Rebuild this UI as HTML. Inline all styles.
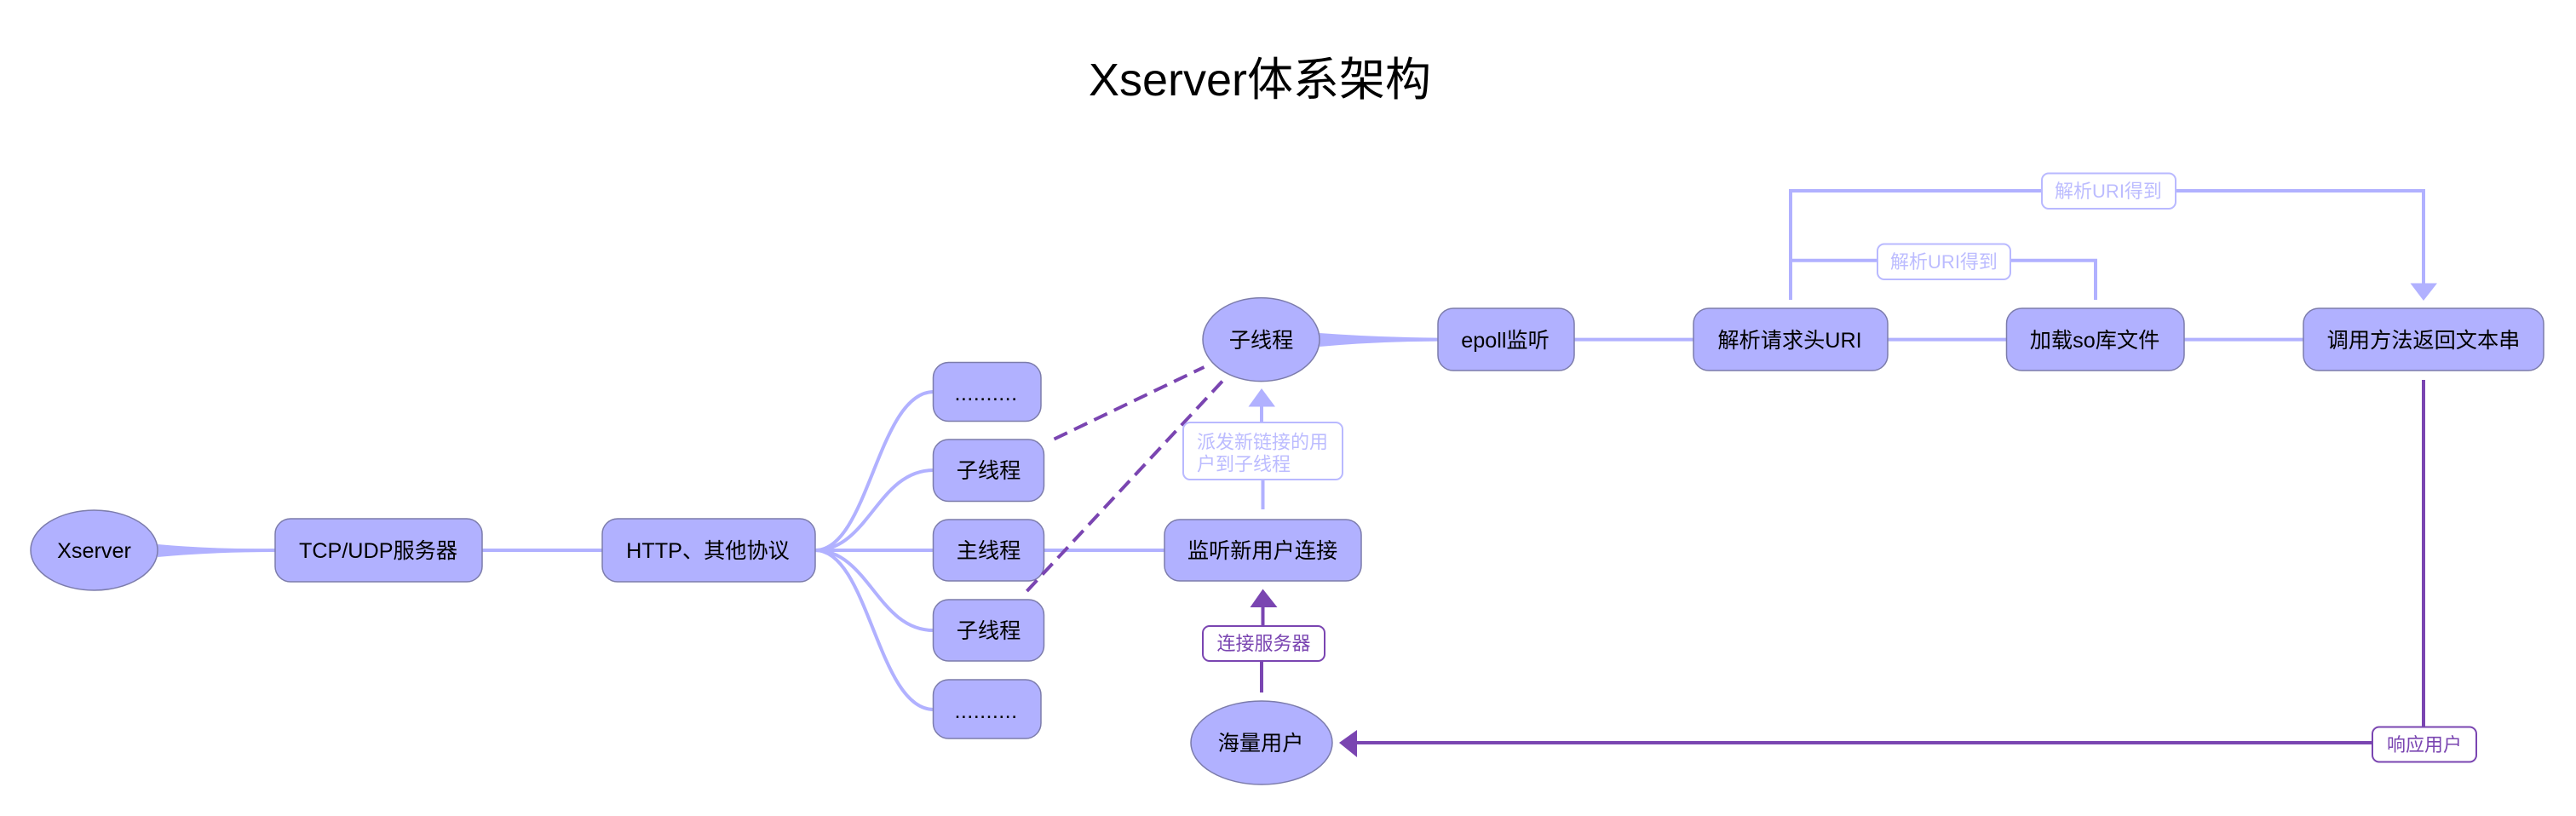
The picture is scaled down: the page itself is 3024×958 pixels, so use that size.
<!DOCTYPE html>
<html><head><meta charset="utf-8"><style>
html,body{margin:0;padding:0;background:#fff;width:3024px;height:958px;overflow:hidden}
svg{display:block}
text{font-family:"Liberation Sans","Noto Sans CJK SC",sans-serif}
.n{fill:#b1b1ff;stroke:#7c7cab;stroke-width:1.5}
.t{font-size:25.2px;fill:#000;text-anchor:middle}
.l{fill:none;stroke:#b1b1ff;stroke-width:4}
.p{fill:none;stroke:#7a45b1;stroke-width:4}
.d{fill:none;stroke:#7a45b1;stroke-width:4;stroke-dasharray:17 9}
.lb{fill:#fff;stroke:#b9b9ff;stroke-width:2}
.lp{fill:#fff;stroke:#7a45b1;stroke-width:2}
.tl{font-size:22px;fill:#bcbcff;text-anchor:middle}
.tp{font-size:22px;fill:#7a45b1;text-anchor:middle}
</style></head><body>
<svg width="3024" height="958" viewBox="0 0 3024 958" xmlns="http://www.w3.org/2000/svg">
<rect width="3024" height="958" fill="#fff"/>
<text x="1479" y="112" text-anchor="middle" font-size="54" fill="#000">Xserver体系架构</text>

<!-- tapered -->
<path d="M185 639 Q250 645 323 644 L323 648 Q250 648 185 654 Z" fill="#b1b1ff"/>
<path d="M1549 391 Q1615 396 1688 396.600 L1688 400.600 Q1615 401 1549 407 Z" fill="#b1b1ff"/>

<!-- light lines -->
<path class="l" d="M566 646H707"/>
<path class="l" d="M957 646H1096"/>
<path class="l" d="M957 646C1020 646 1030 460 1096 460"/>
<path class="l" d="M957 646C1020 646 1030 552 1096 552"/>
<path class="l" d="M957 646C1020 646 1030 740 1096 740"/>
<path class="l" d="M957 646C1020 646 1030 833 1096 833"/>
<path class="l" d="M1225 646H1367"/>
<path class="l" d="M1848 398.600H1988"/>
<path class="l" d="M2216 398.600H2356"/>
<path class="l" d="M2564 398.600H2704"/>
<path class="l" d="M1482.500 598V563"/>
<path class="l" d="M1481 496V477"/>
<path d="M1481 456L1465.500 477.500H1497Z" fill="#b1b1ff"/>
<path class="l" d="M2102 352V224H2845V334"/>
<path class="l" d="M2102 305.700H2460V352"/>
<path d="M2845 353L2829.500 332.500H2861Z" fill="#b1b1ff"/>

<!-- purple lines -->
<path class="p" d="M1481 813V776"/>
<path class="p" d="M1482.500 735V712"/>
<path d="M1482.500 691.500L1467.500 713H1499.500Z" fill="#7a45b1"/>
<path class="p" d="M2845 446V872H1592"/>
<path d="M1572 872L1593 857V889Z" fill="#7a45b1"/>

<!-- nodes -->
<ellipse class="n" cx="110.500" cy="646" rx="74.500" ry="47"/>
<text class="t" x="110.500" y="655">Xserver</text>
<rect class="n" x="323" y="609" width="243" height="74" rx="18"/>
<text class="t" x="444" y="655">TCP/UDP服务器</text>
<rect class="n" x="707" y="609" width="250" height="74" rx="18"/>
<text class="t" x="831" y="655">HTTP、其他协议</text>

<rect class="n" x="1095.500" y="425.500" width="126.500" height="69" rx="18"/>
<text class="t" x="1157.500" y="470" style="letter-spacing:.4px">..........</text>
<rect class="n" x="1095.500" y="516" width="130" height="72.500" rx="18"/>
<text class="t" x="1160.500" y="561">子线程</text>
<rect class="n" x="1095.500" y="610" width="130" height="72" rx="18"/>
<text class="t" x="1160.500" y="655">主线程</text>
<rect class="n" x="1095.500" y="704" width="130" height="72" rx="18"/>
<text class="t" x="1160.500" y="749">子线程</text>
<rect class="n" x="1095.500" y="798" width="126.500" height="69" rx="18"/>
<text class="t" x="1157.500" y="843" style="letter-spacing:.4px">..........</text>

<ellipse class="n" cx="1480.500" cy="398.600" rx="68.500" ry="49"/>
<text class="t" x="1480.500" y="408">子线程</text>
<rect class="n" x="1688" y="362" width="160" height="73" rx="18"/>
<text class="t" x="1767" y="408">epoll监听</text>
<rect class="n" x="1988" y="362" width="228" height="73" rx="18"/>
<text class="t" x="2101" y="408">解析请求头URI</text>
<rect class="n" x="2355.500" y="362" width="208.500" height="73" rx="18"/>
<text class="t" x="2459" y="408">加载so库文件</text>
<rect class="n" x="2704" y="362" width="282" height="73" rx="18"/>
<text class="t" x="2845" y="408">调用方法返回文本串</text>

<rect class="n" x="1367" y="610" width="231" height="72" rx="18"/>
<text class="t" x="1482" y="655">监听新用户连接</text>
<ellipse class="n" cx="1481" cy="872" rx="83" ry="49"/>
<text class="t" x="1480" y="881">海量用户</text>

<!-- dashed -->
<path class="d" d="M1237.500 515.500L1413.500 431"/>
<path class="d" style="stroke-dasharray:17.400 9.200" d="M1205.500 694L1435 447.500"/>

<!-- labels -->
<rect class="lb" x="1389" y="496" width="187" height="67" rx="8"/>
<text class="tl" x="1405" y="526.500" style="text-anchor:start">派发新链接的用</text>
<text class="tl" x="1405" y="552.500" style="text-anchor:start">户到子线程</text>
<rect class="lp" x="1412" y="735" width="143" height="41" rx="8"/>
<text class="tp" x="1483.500" y="763">连接服务器</text>
<rect class="lb" x="2397" y="203.500" width="157" height="41.500" rx="8"/>
<text class="tl" x="2475" y="232">解析URI得到</text>
<rect class="lb" x="2204" y="286.500" width="156" height="41.500" rx="8"/>
<text class="tl" x="2282" y="315">解析URI得到</text>
<rect class="lp" x="2785" y="853.500" width="122" height="41" rx="8"/>
<text class="tp" x="2846" y="882">响应用户</text>
</svg>
</body></html>
